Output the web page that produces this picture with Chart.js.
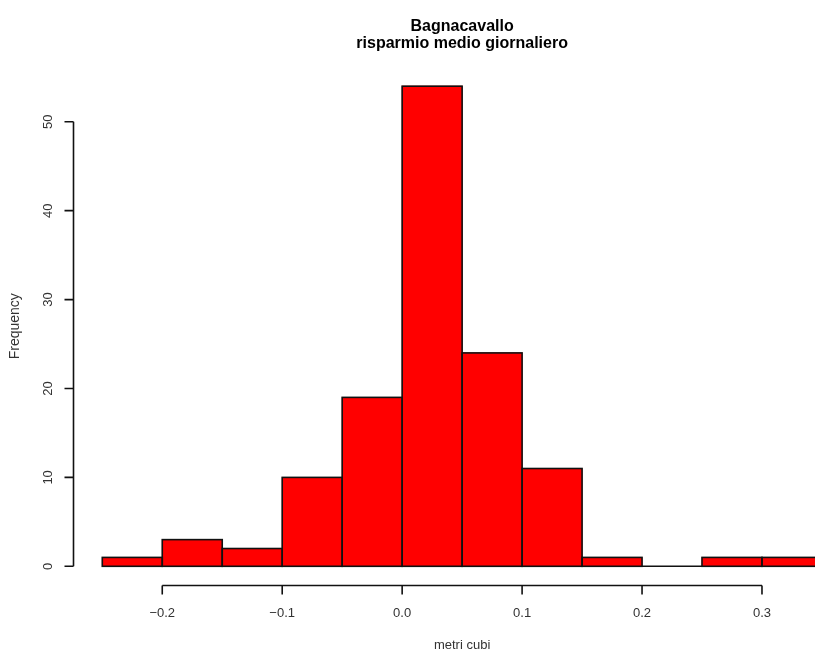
<!DOCTYPE html>
<html>
<head>
<meta charset="utf-8">
<script src="https://cdn.jsdelivr.net/npm/chart.js@4/dist/chart.umd.min.js"></script>
<style>
  html, body { margin: 0; padding: 0; background: #ffffff; }
  #wrap { width: 815px; height: 650px; overflow: hidden; background: #ffffff; }
</style>
</head>
<body>
<div id="wrap"><canvas id="c" width="815" height="650"></canvas></div>
<script>
// ---- data ----
const titleLines = ["Bagnacavallo", "risparmio medio giornaliero"];
const xLabel = "metri cubi";
const yLabel = "Frequency";
const breaks = [-0.25, -0.2, -0.15, -0.1, -0.05, 0, 0.05, 0.1, 0.15, 0.2, 0.25, 0.3, 0.35];
const counts = [1, 3, 2, 10, 19, 54, 24, 11, 1, 0, 1, 1];
const xTicks = [-0.2, -0.1, 0.0, 0.1, 0.2, 0.3];
const yTicks = [0, 10, 20, 30, 40, 50];

const points = counts.map((c, i) => ({ x: (breaks[i] + breaks[i + 1]) / 2, y: c }));

const FONT = "'Liberation Sans', Arial, Helvetica, sans-serif";

const rAxesPlugin = {
  id: 'rAxes',
  afterDatasetsDraw(chart) {
    const ctx = chart.ctx;
    const ca = chart.chartArea;
    const xs = chart.scales.x, ys = chart.scales.y;

    // bar outlines (centered on bar edges, like R's rect())
    ctx.save();
    ctx.beginPath();
    ctx.rect(ca.left, ca.top, ca.right - ca.left, ca.bottom - ca.top);
    ctx.clip();
    ctx.strokeStyle = '#111111';
    ctx.lineWidth = 1.6;
    chart.getDatasetMeta(0).data.forEach(el => {
      const p = el.getProps(['x', 'y', 'base', 'width'], true);
      const top = Math.min(p.y, p.base);
      const h = Math.abs(p.base - p.y);
      ctx.strokeRect(p.x - p.width / 2, top, p.width, h);
    });
    ctx.restore();

    // axes (R style: line spans first to last tick)
    ctx.save();
    ctx.strokeStyle = '#111111';
    ctx.lineWidth = 1.6;
    ctx.lineCap = 'butt';
    const tl = 9;
    // y axis
    const yx = ca.left;
    const y0 = ys.getPixelForValue(yTicks[0]);
    const y1 = ys.getPixelForValue(yTicks[yTicks.length - 1]);
    ctx.beginPath();
    ctx.moveTo(yx, y0); ctx.lineTo(yx, y1);
    yTicks.forEach(v => {
      const py = ys.getPixelForValue(v);
      ctx.moveTo(yx, py); ctx.lineTo(yx - tl, py);
    });
    ctx.stroke();
    // x axis
    const xy = ca.bottom;
    const x0 = xs.getPixelForValue(xTicks[0]);
    const x1 = xs.getPixelForValue(xTicks[xTicks.length - 1]);
    ctx.beginPath();
    ctx.moveTo(x0, xy); ctx.lineTo(x1, xy);
    xTicks.forEach(v => {
      const px = xs.getPixelForValue(v);
      ctx.moveTo(px, xy); ctx.lineTo(px, xy + tl);
    });
    ctx.stroke();

    // title + x label, centered on the plot region (R style)
    const cx = xs.getPixelForValue((breaks[0] + breaks[breaks.length - 1]) / 2);
    ctx.fillStyle = '#000000';
    ctx.textAlign = 'center';
    ctx.textBaseline = 'alphabetic';
    ctx.font = "bold 16px " + FONT;
    ctx.fillText(titleLines[0], cx, 31);
    ctx.fillText(titleLines[1], cx, 47.5);
    ctx.fillStyle = '#333333';
    ctx.font = "13px " + FONT;
    ctx.fillText(xLabel, cx, 649);
    ctx.restore();
  }
};

new Chart(document.getElementById('c'), {
  type: 'bar',
  data: {
    datasets: [{
      data: points,
      backgroundColor: '#ff0000',
      borderWidth: 0,
      barPercentage: 1.0,
      categoryPercentage: 1.0
    }]
  },
  options: {
    responsive: false,
    devicePixelRatio: 1,
    animation: false,
    layout: { padding: { top: 67, left: 0, right: 0, bottom: 0 } },
    plugins: {
      legend: { display: false },
      tooltip: { enabled: false },
      title: { display: false }
    },
    scales: {
      x: {
        type: 'linear',
        offset: false,
        min: -0.274,
        max: 0.3442,
        grid: { display: false, drawTicks: false, offset: false },
        border: { display: false },
        afterBuildTicks: s => { s.ticks = xTicks.map(v => ({ value: v })); },
        afterFit: s => { s.height = 64.5; },
        ticks: {
          autoSkip: false,
          maxRotation: 0,
          minRotation: 0,
          padding: 20,
          color: '#333333',
          font: { family: FONT, size: 13 },
          callback: v => Number(v).toFixed(1).replace('-', '\u2212')
        }
      },
      y: {
        type: 'linear',
        min: -2.16,
        max: 56.16,
        grid: { display: false, drawTicks: false },
        border: { display: false },
        afterBuildTicks: s => { s.ticks = yTicks.map(v => ({ value: v })); },
        afterFit: s => { s.width = 73.5; },
        ticks: {
          autoSkip: false,
          minRotation: 90,
          maxRotation: 90,
          crossAlign: 'center',
          padding: 18,
          color: '#333333',
          font: { family: FONT, size: 13 },
          callback: v => String(v)
        },
        title: {
          display: true,
          text: yLabel,
          color: '#333333',
          font: { family: FONT, size: 14 },
          padding: { top: 7, bottom: 0 }
        }
      }
    }
  },
  plugins: [rAxesPlugin]
});
</script>
</body>
</html>
